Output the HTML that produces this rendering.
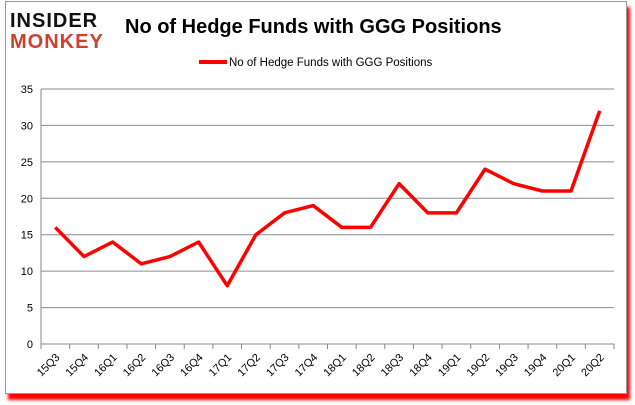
<!DOCTYPE html>
<html><head><meta charset="utf-8"><style>
body{margin:0;background:#fff;width:635px;height:405px;overflow:hidden;font-family:"Liberation Sans",sans-serif}
#frame{position:absolute;left:5px;top:1px;width:620px;height:391px;border:1px solid #999;background:#fff;box-shadow:3px 6px 3px #f00}
</style></head><body>
<div id="frame"></div>
<svg width="635" height="405" style="position:absolute;left:0;top:0" id="svg">
<g font-weight="bold" font-family="'Liberation Sans',sans-serif">
<text x="10" y="27" font-size="20" fill="#111" letter-spacing="1">INSIDER</text>
<text x="10" y="48" font-size="20" fill="#d0402e" letter-spacing="1">MONKEY</text>
</g>
<text x="125" y="33" font-size="20" font-weight="bold" fill="#000">No of Hedge Funds with GGG Positions</text>
<line x1="199" y1="62" x2="227" y2="62" stroke="#f00" stroke-width="4"/>
<text x="229" y="66" font-size="11.5" fill="#000">No of Hedge Funds with GGG Positions</text>
<g id="grid"></g><g id="axes"></g>
</svg>
<script>
const categories=["15Q3","15Q4","16Q1","16Q2","16Q3","16Q4","17Q1","17Q2","17Q3","17Q4","18Q1","18Q2","18Q3","18Q4","19Q1","19Q2","19Q3","19Q4","20Q1","20Q2"];
const values=[16,12,14,11,12,14,8,15,18,19,16,16,22,18,18,24,22,21,21,32];
const yTicks=[0,5,10,15,20,25,30,35];
const NS="http://www.w3.org/2000/svg";
const x0=41,x1=614,y0=344,y1=89,yMax=35;
const bw=(x1-x0)/categories.length;
const X=i=>x0+bw*(i+0.5), Y=v=>y0-(y0-y1)*v/yMax;
const svg=document.getElementById('svg'),grid=document.getElementById('grid'),axes=document.getElementById('axes');
function mk(t,a,p){const e=document.createElementNS(NS,t);for(const k in a)e.setAttribute(k,a[k]);p.appendChild(e);return e;}
yTicks.forEach(v=>{
  const l=mk('line',{x1:x0,x2:x1,y1:Y(v),y2:Y(v),stroke:v===0?'#888':'#8c8c8c','stroke-width':1},grid);
  
  
  const t=mk('text',{x:x0-8,y:Y(v)+4,'text-anchor':'end','font-size':11,fill:'#000'},axes);
  t.textContent=v;
  
  
});
const ya=mk('line',{x1:x0,x2:x0,y1:y1,y2:y0,stroke:'#888'},axes);


for(let i=0;i<=categories.length;i++){
  const tk=mk('line',{x1:x0+bw*i,x2:x0+bw*i,y1:y0,y2:y0+5,stroke:'#888'},axes);
  
  
}
categories.forEach((c,i)=>{
  const t=mk('text',{x:X(i)+5,y:y0+14,'text-anchor':'end','font-size':11,fill:'#000',transform:`rotate(-45 ${X(i)+5} ${y0+14})`},axes);
  t.textContent=c;
  
  
});
const p=mk('polyline',{points:values.map((v,i)=>X(i)+','+Y(v)).join(' '),fill:'none',stroke:'#f00','stroke-width':3.5,'stroke-linejoin':'round'},svg);


</script>
</body></html>
